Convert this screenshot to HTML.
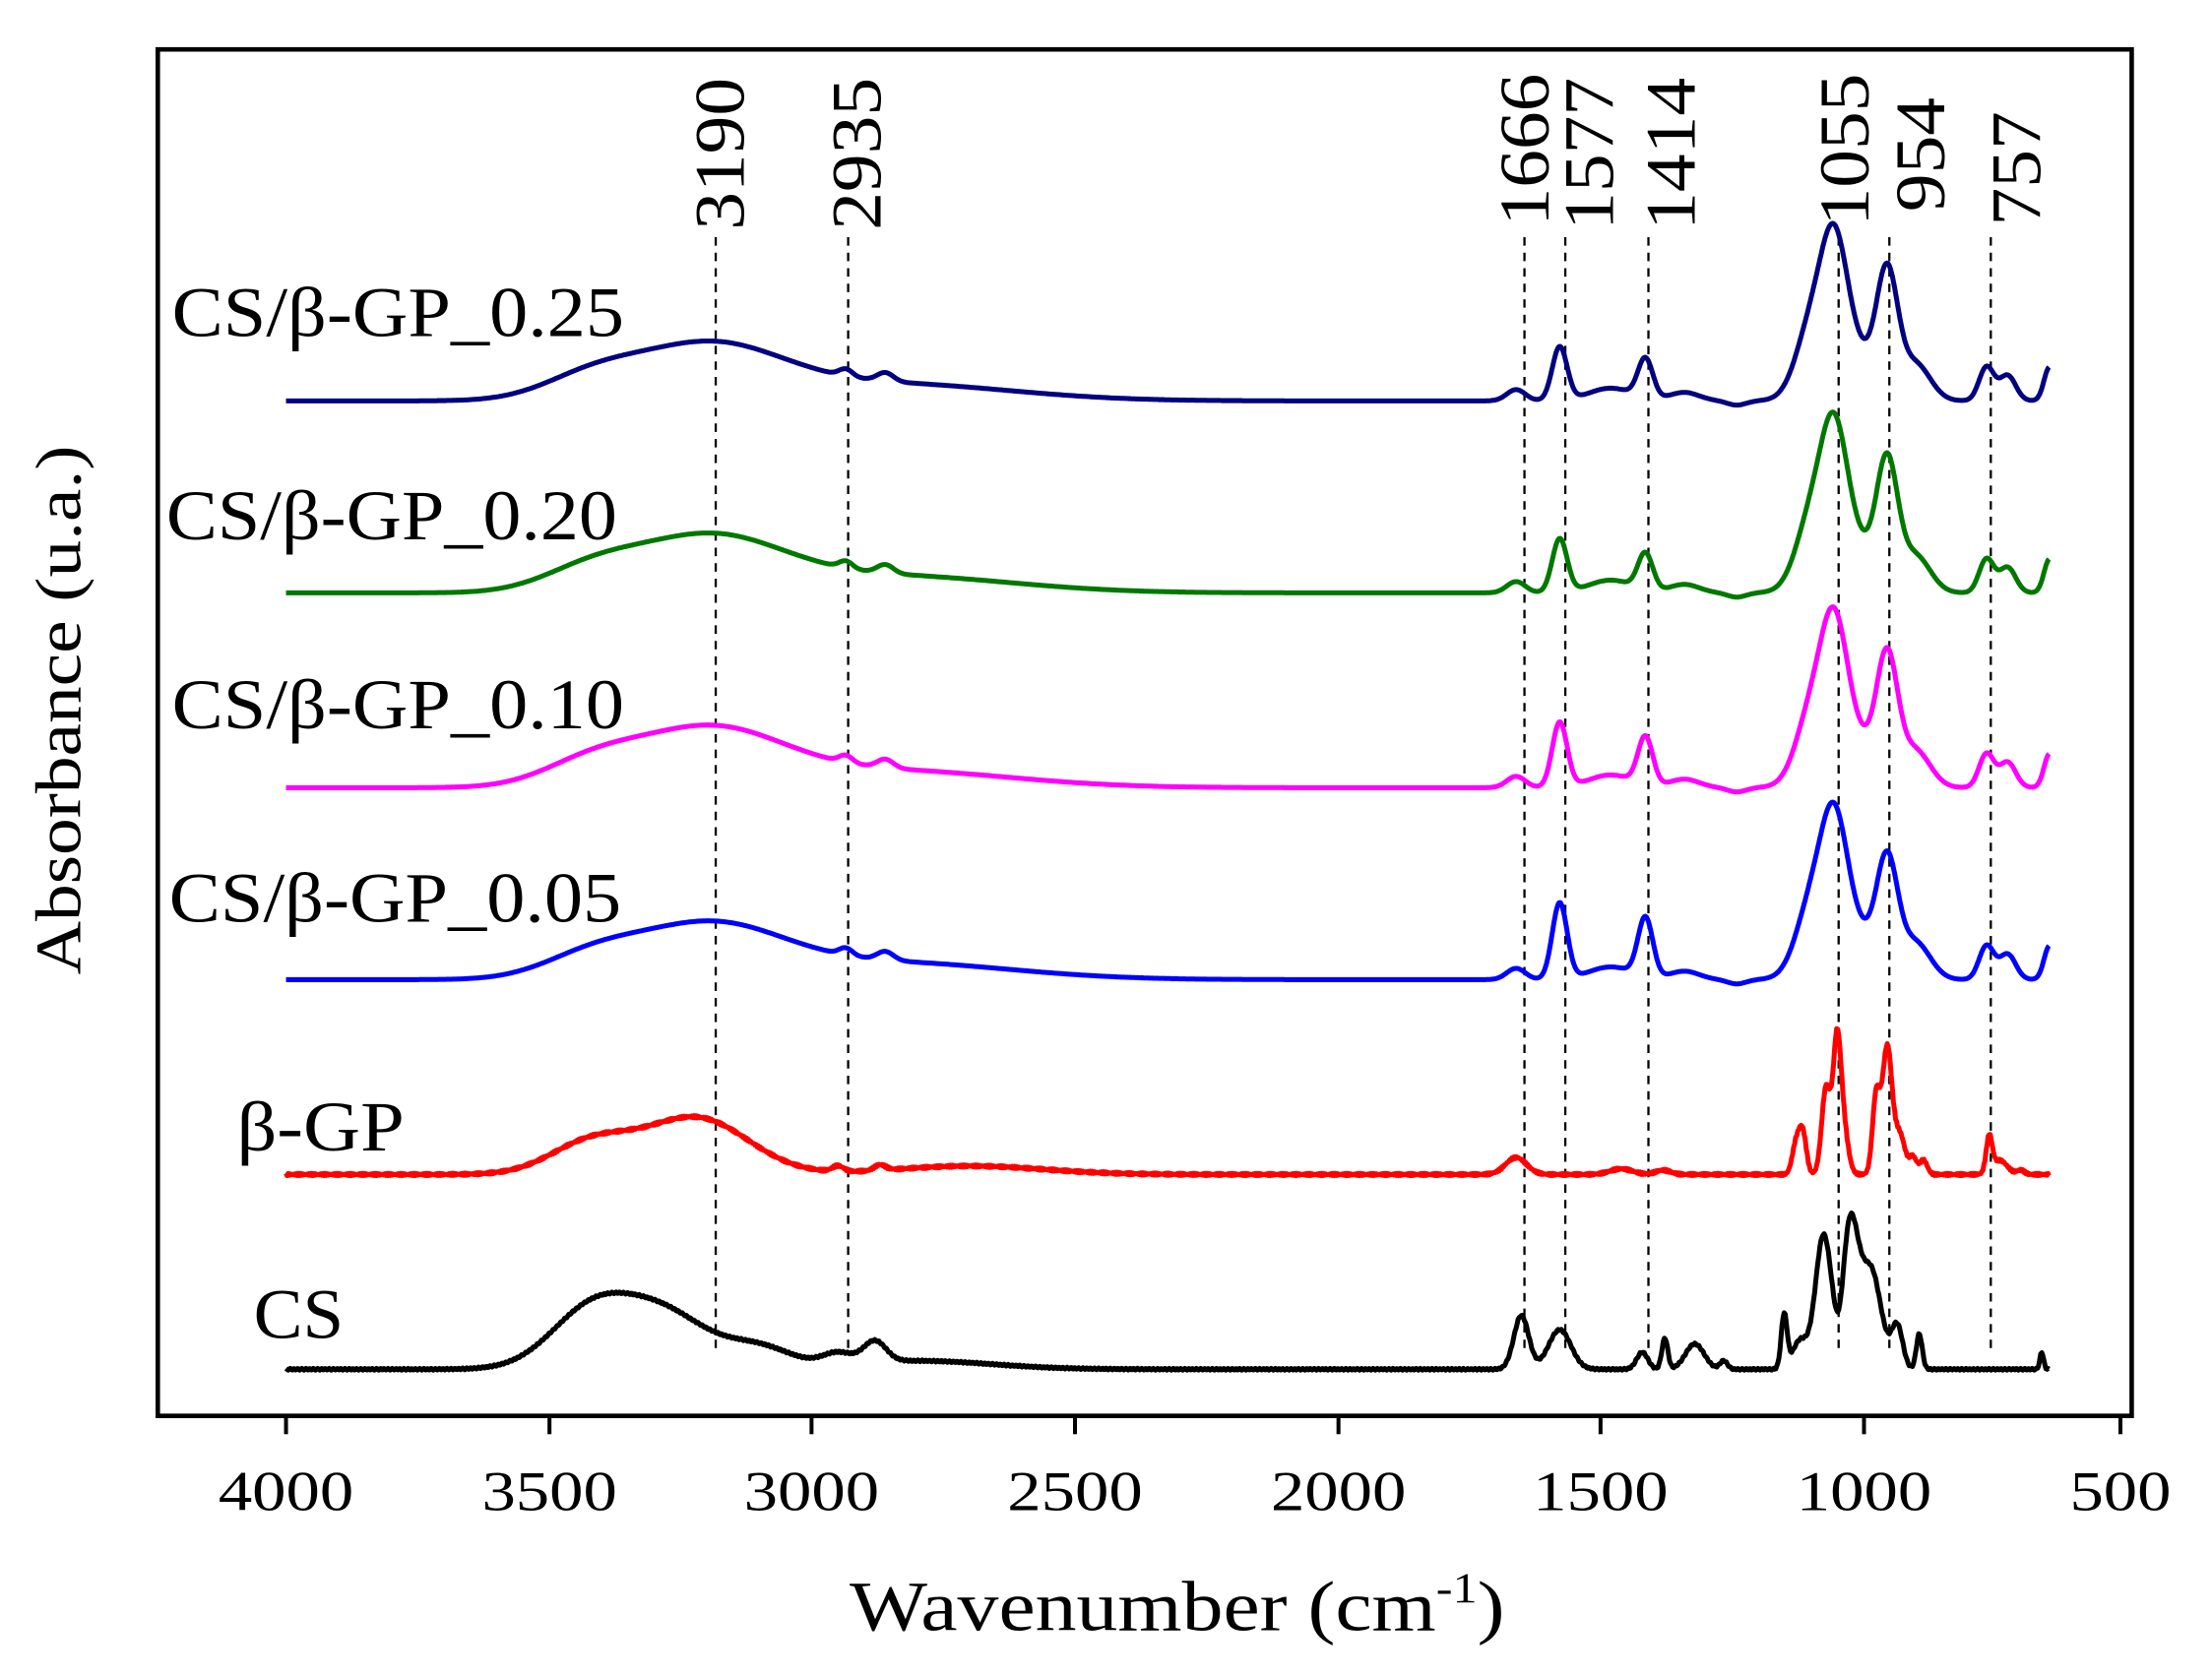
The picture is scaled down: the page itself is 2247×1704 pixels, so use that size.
<!DOCTYPE html>
<html><head><meta charset="utf-8"><style>
html,body{margin:0;padding:0;background:#fff;}
svg{display:block;}
text{font-family:"Liberation Serif","DejaVu Serif",serif;fill:#000;}
</style></head><body>
<svg id="s" width="2247" height="1704" viewBox="0 0 1570 1188" preserveAspectRatio="none" xmlns="http://www.w3.org/2000/svg">
<rect x="112" y="35" width="1401" height="968" fill="none" stroke="#000" stroke-width="3.2"/>
<g stroke="#000" stroke-width="2.8">
<line x1="203" y1="1003" x2="203" y2="1016"/><line x1="390" y1="1003" x2="390" y2="1016"/>
<line x1="576" y1="1003" x2="576" y2="1016"/><line x1="763" y1="1003" x2="763" y2="1016"/>
<line x1="950" y1="1003" x2="950" y2="1016"/><line x1="1136" y1="1003" x2="1136" y2="1016"/>
<line x1="1323" y1="1003" x2="1323" y2="1016"/><line x1="1505" y1="1003" x2="1505" y2="1016"/>
</g>
<g font-size="40" text-anchor="middle">
<text x="203" y="1070" textLength="96" lengthAdjust="spacingAndGlyphs">4000</text>
<text x="390" y="1070" textLength="96" lengthAdjust="spacingAndGlyphs">3500</text>
<text x="576" y="1070" textLength="96" lengthAdjust="spacingAndGlyphs">3000</text>
<text x="763" y="1070" textLength="96" lengthAdjust="spacingAndGlyphs">2500</text>
<text x="950" y="1070" textLength="96" lengthAdjust="spacingAndGlyphs">2000</text>
<text x="1136" y="1070" textLength="96" lengthAdjust="spacingAndGlyphs">1500</text>
<text x="1323" y="1070" textLength="96" lengthAdjust="spacingAndGlyphs">1000</text>
<text x="1505" y="1070" textLength="72" lengthAdjust="spacingAndGlyphs">500</text>
</g>
<text x="603" y="1155" font-size="50" textLength="465" lengthAdjust="spacingAndGlyphs">Wavenumber (cm<tspan font-size="30" dy="-20">-1</tspan><tspan dy="20">)</tspan></text>
<text transform="translate(57,503) rotate(-90)" font-size="46" text-anchor="middle" textLength="375" lengthAdjust="spacingAndGlyphs">Absorbance (u.a.)</text>
<g stroke="#000" stroke-width="1.6" stroke-dasharray="6,5">
<line x1="508" y1="168" x2="508" y2="958"/><line x1="602" y1="168" x2="602" y2="958"/>
<line x1="1082" y1="168" x2="1082" y2="958"/><line x1="1111" y1="168" x2="1111" y2="958"/>
<line x1="1170" y1="168" x2="1170" y2="958"/><line x1="1305" y1="168" x2="1305" y2="958"/>
<line x1="1341" y1="168" x2="1341" y2="958"/><line x1="1413" y1="168" x2="1413" y2="958"/>
</g>
<g font-size="50">
<text transform="translate(528,163) rotate(-90)" textLength="108" lengthAdjust="spacingAndGlyphs">3190</text>
<text transform="translate(625,163) rotate(-90)" textLength="108" lengthAdjust="spacingAndGlyphs">2935</text>
<text transform="translate(1099,160) rotate(-90)" textLength="108" lengthAdjust="spacingAndGlyphs">1666</text>
<text transform="translate(1145,163) rotate(-90)" textLength="108" lengthAdjust="spacingAndGlyphs">1577</text>
<text transform="translate(1203,163) rotate(-90)" textLength="108" lengthAdjust="spacingAndGlyphs">1414</text>
<text transform="translate(1326,160) rotate(-90)" textLength="108" lengthAdjust="spacingAndGlyphs">1055</text>
<text transform="translate(1380,150) rotate(-90)" textLength="81" lengthAdjust="spacingAndGlyphs">954</text>
<text transform="translate(1448,160) rotate(-90)" textLength="81" lengthAdjust="spacingAndGlyphs">757</text>
</g>
<g font-size="50">
<text x="122" y="238" textLength="321" lengthAdjust="spacingAndGlyphs">CS/β-GP_0.25</text>
<text x="118" y="382" textLength="320" lengthAdjust="spacingAndGlyphs">CS/β-GP_0.20</text>
<text x="122" y="516" textLength="321" lengthAdjust="spacingAndGlyphs">CS/β-GP_0.10</text>
<text x="120" y="653" textLength="321" lengthAdjust="spacingAndGlyphs">CS/β-GP_0.05</text>
<text x="168" y="815" textLength="119" lengthAdjust="spacingAndGlyphs">β-GP</text>
<text x="180" y="948" textLength="64" lengthAdjust="spacingAndGlyphs">CS</text>
</g>
<g id="curves" fill="none" stroke-width="3.5" stroke-linejoin="round"></g>
</svg>
<script>
function X(w){return 203+(4000-w)*0.3731;}
function g(w,c,s,h){var d=(w-c)/s;return h*Math.exp(-d*d);}
function comp(k){
 return function(w){
  var y=0;
  y+=g(w,3200,200,38*k.b)+g(w,3420,130,14*k.b);
  y+=g(w,2850,320,12);
  y+=g(w,2935,18,5)+g(w,2860,22,6);
  y+=g(w,1660,25,8);
  y+=g(w,1577,20,k.a);
  y+=g(w,1480,60,9);
  y+=g(w,1414,20,k.c);
  y+=g(w,1340,40,6);
  y+=g(w,1100,40,40);
  y+=g(w,1055,35,80*k.d);
  y+=g(w,1030,75,38);
  y+=g(w,954,28,80*k.e);
  y+=g(w,900,40,25);
  y+=g(w,765,20,24);
  y+=g(w,725,22,18);
  y+=g(w,645,15,24);
  y-=g(w,1240,25,3);
  return y;};
}
function bgp(w){
 var y=0;
 y+=g(w,3220,140,40)+g(w,3420,110,22)+g(w,2700,200,6);
 y+=g(w,2950,15,4)+g(w,2870,15,4);
 y+=g(w,1660,28,12)+g(w,1460,30,4)+g(w,1380,20,3);
 y+=g(w,1115,10,30)+g(w,1128,10,20)+g(w,1070,12,62)+g(w,1050,10,75)+g(w,1040,14,40);
 y+=g(w,975,10,55)+g(w,954,13,90)+g(w,930,14,28)+g(w,905,10,12)+g(w,885,10,10);
 y+=g(w,760,8,25)+g(w,740,20,10)+g(w,700,10,3);
 y+=Math.sin(w*1.7)*0.8;
 return y;}
function cs(w){
 var y=0;
 y+=g(w,3420,110,40)+g(w,3280,120,38)+g(w,3100,90,14)+g(w,2880,30,15)+g(w,2950,40,8)+g(w,2800,200,6);
 y+=g(w,1650,20,38)+g(w,1577,30,28)+g(w,1420,15,12)+g(w,1377,8,22)+g(w,1320,25,18)+g(w,1265,10,6);
 y+=g(w,1150,8,38)+g(w,1120,20,20)+g(w,1075,22,95)+g(w,1025,22,100)+g(w,1045,12,-15)+g(w,985,28,70);
 y+=g(w,935,15,30)+g(w,893,8,25)+g(w,660,5,12);
 y+=Math.sin(w*2.3)*0.6;
 return y;}
var series=[
 [comp({b:1,a:38,c:28,d:1,e:1}),284,"#000080"],
 [comp({b:1,a:38,c:26,d:1.03,e:1.02}),420,"#007800"],
 [comp({b:1.05,a:46,c:34,d:1.03,e:1.02}),558,"#ff00ff"],
 [comp({b:0.98,a:54,c:42,d:1.0,e:0.92}),694,"#0000ff"],
 [bgp,832,"#ff0000"],
 [cs,970,"#000000"]];
var G=document.getElementById('curves'),ns="http://www.w3.org/2000/svg";
series.forEach(function(s){
 var d="";
 for(var w=4000;w>=645;w-=2){
   var x=X(w),y=s[1]-s[0](w);
   d+=(d?"L":"M")+x.toFixed(1)+","+y.toFixed(1);
 }
 var p=document.createElementNS(ns,"path");
 p.setAttribute("d",d);p.setAttribute("stroke",s[2]);
 G.appendChild(p);
});
</script>
</body></html>
